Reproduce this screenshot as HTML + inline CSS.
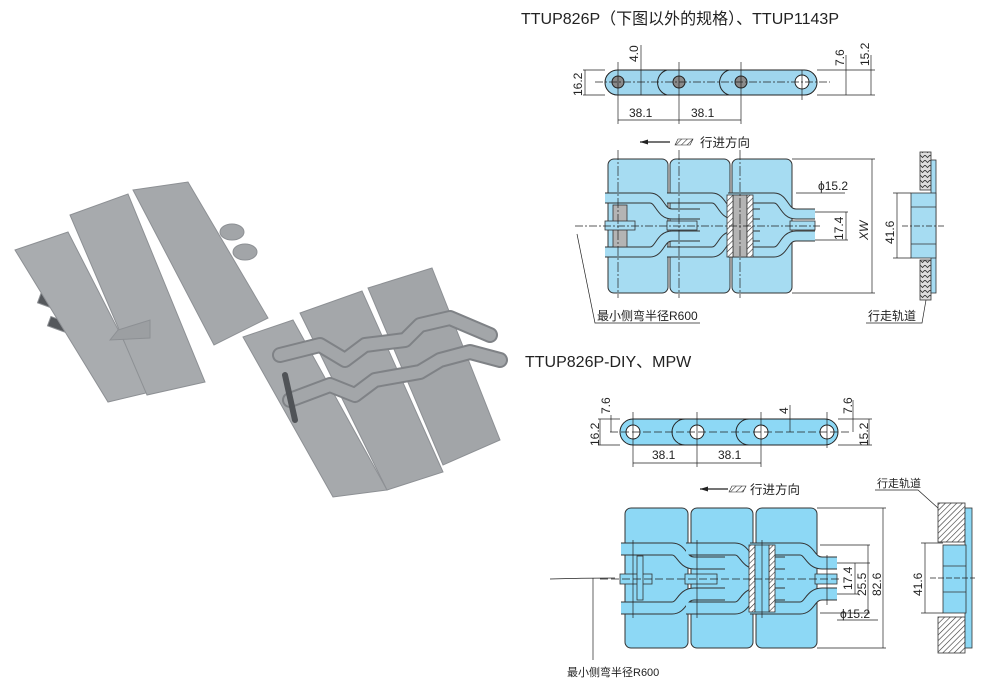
<!DOCTYPE html>
<html><head><meta charset="utf-8"><style>
html,body{margin:0;padding:0;background:#fff;}
svg{display:block;font-family:"Liberation Sans","Noto Sans CJK SC",sans-serif;}
</style></head><body>
<svg width="1000" height="691" viewBox="0 0 1000 691" xmlns="http://www.w3.org/2000/svg">
<defs>
<pattern id="h" width="4" height="4" patternUnits="userSpaceOnUse" patternTransform="rotate(45)"><rect width="4" height="4" fill="#fff"/><line x1="0" y1="0" x2="0" y2="4" stroke="#333" stroke-width="1.2"/></pattern>
<pattern id="hv" width="5" height="5" patternUnits="userSpaceOnUse"><rect width="5" height="5" fill="#ddd"/><path d="M0,0 L2.5,2.5 L5,0" stroke="#333" fill="none" stroke-width="0.8"/></pattern>
</defs>

<!-- ===== PHOTO left piece ===== -->
<g stroke="#8d9094" stroke-width="1">
<rect x="38" y="300" width="40" height="10" fill="#55585c" transform="rotate(20 58 305)"/>
<rect x="48" y="323" width="40" height="10" fill="#55585c" transform="rotate(20 68 328)"/>
<ellipse cx="232" cy="232" rx="12" ry="8" fill="#a2a5a8"/>
<ellipse cx="245" cy="252" rx="12" ry="8" fill="#a2a5a8"/>
<polygon points="15,250 68,232 150,392 108,402" fill="#a9acaf"/>
<polygon points="70,215 128,194 205,382 147,395" fill="#a7aaad"/>
<polygon points="133,190 188,182 268,318 214,345" fill="#a5a8ab"/>
<polygon points="110,340 118,330 150,320 150,338" fill="#9c9fa2"/>
</g>
<!-- ===== PHOTO right piece ===== -->
<g stroke="#8d9094" stroke-width="1">
<polygon points="243,337 293,320 387,490 333,497" fill="#a6a9ac"/>
<polygon points="300,313 362,291 443,472 387,490" fill="#a4a7aa"/>
<polygon points="368,288 432,268 500,440 443,465" fill="#a2a5a8"/>
</g>
<g fill="none" stroke-linecap="round" stroke-linejoin="round">
<path d="M280,355 L320,345 L345,360 L365,345 L405,340 L420,325 L450,318 L490,335" stroke="#7f8286" stroke-width="16"/>
<path d="M280,355 L320,345 L345,360 L365,345 L405,340 L420,325 L450,318 L490,335" stroke="#a3a6a9" stroke-width="12"/>
<path d="M290,400 L330,385 L355,395 L375,380 L420,372 L440,360 L470,352 L500,360" stroke="#7f8286" stroke-width="16"/>
<path d="M290,400 L330,385 L355,395 L375,380 L420,372 L440,360 L470,352 L500,360" stroke="#a3a6a9" stroke-width="12"/>
<path d="M285,375 L295,420" stroke="#505357" stroke-width="6"/>
</g>

<!-- ===== TITLES ===== -->
<text x="521" y="24" font-size="16" fill="#222">TTUP826P（下图以外的规格）、TTUP1143P</text>
<text x="525" y="367" font-size="16" fill="#222">TTUP826P-DIY、MPW</text>

<!-- ===== SIDE VIEW 1 ===== -->
<g stroke="#222" stroke-width="1">
<rect x="605" y="70" width="212" height="25" rx="12.5" fill="#9fd6ee"/>
<circle cx="618" cy="82" r="6" fill="#8a8a8a"/>
<circle cx="679" cy="82" r="6" fill="#8a8a8a"/>
<circle cx="741" cy="82" r="6" fill="#8a8a8a"/>
<circle cx="802" cy="82" r="7" fill="#fff"/>
<path d="M667,95 A13,13 0 0 1 667,70 M729,95 A13,13 0 0 1 729,70" fill="none"/>
</g>
<g stroke="#222" stroke-width="0.7" fill="none">
<line x1="595" y1="82" x2="830" y2="82" stroke-dasharray="8,2,2,2"/>
<line x1="583" y1="70" x2="605" y2="70"/><line x1="583" y1="95" x2="605" y2="95"/><line x1="585" y1="70" x2="585" y2="95"/>
<line x1="618" y1="62" x2="618" y2="124"/><line x1="679" y1="62" x2="679" y2="124"/><line x1="741" y1="62" x2="741" y2="124"/><line x1="802" y1="70" x2="802" y2="100"/>
<line x1="618" y1="120" x2="741" y2="120"/>
<line x1="641" y1="45" x2="641" y2="95"/>
<line x1="817" y1="70" x2="875" y2="70"/><line x1="817" y1="95" x2="875" y2="95"/>
<line x1="846" y1="55" x2="846" y2="95"/><line x1="871" y1="55" x2="871" y2="95"/>
</g>
<g font-size="12" fill="#222">
<text x="629" y="117">38.1</text><text x="691" y="117">38.1</text>
<text transform="translate(582,96) rotate(-90)">16.2</text>
<text transform="translate(638,62) rotate(-90)">4.0</text>
<text transform="translate(844,66) rotate(-90)">7.6</text>
<text transform="translate(869,66) rotate(-90)">15.2</text>
</g>
<path d="M640,142 L670,142" stroke="#222" stroke-width="1.2"/><path d="M640,142 l8,-2.5 v5z" fill="#222"/>
<polygon points="675,145 678,139 693,139 690,145" fill="url(#h)" stroke="#222" stroke-width="0.6"/>
<text x="700" y="147" font-size="12.5" fill="#222">行进方向</text>

<!-- ===== PLAN VIEW 1 ===== -->
<g stroke="#333" stroke-width="1" fill="#a6dcf2">
<rect x="608" y="159" width="60" height="134" rx="6"/>
<rect x="670" y="159" width="60" height="134" rx="6"/>
<rect x="732" y="159" width="60" height="134" rx="6"/>
</g>
<g fill="none" stroke-linejoin="round">
<g stroke="#333" stroke-width="11">
<path d="M605,198 H650 C660,198 660,214 672,214 H700"/><path d="M605,252 H650 C660,252 660,236 672,236 H700"/>
<path d="M667,198 H712 C722,198 722,214 734,214 H760"/><path d="M667,252 H712 C722,252 722,236 734,236 H760"/>
<path d="M728,198 H774 C784,198 784,214 796,214 H815"/><path d="M728,252 H774 C784,252 784,236 796,236 H815"/>
</g>
<g stroke="#a6dcf2" stroke-width="9">
<path d="M605,198 H650 C660,198 660,214 672,214 H700"/><path d="M605,252 H650 C660,252 660,236 672,236 H700"/>
<path d="M667,198 H712 C722,198 722,214 734,214 H760"/><path d="M667,252 H712 C722,252 722,236 734,236 H760"/>
<path d="M728,198 H774 C784,198 784,214 796,214 H815"/><path d="M728,252 H774 C784,252 784,236 796,236 H815"/>
</g>
</g>
<g stroke="#333" stroke-width="0.8">
<rect x="613" y="205" width="14" height="42" fill="#b4b4b4"/>
<rect x="733" y="195" width="14" height="62" fill="#b4b4b4"/>
<rect x="727" y="195" width="6" height="62" fill="url(#h)"/><rect x="747" y="195" width="6" height="62" fill="url(#h)"/>
<rect x="605" y="221" width="30" height="9" fill="#a6dcf2"/>
<rect x="667" y="221" width="30" height="9" fill="#a6dcf2"/>
<rect x="790" y="221" width="25" height="9" fill="#a6dcf2"/>
</g>
<g stroke="#222" stroke-width="0.7" fill="none">
<line x1="575" y1="226" x2="820" y2="226" stroke-dasharray="8,2,2,2"/>
<line x1="618" y1="150" x2="618" y2="298" stroke-dasharray="10,2,2,2"/>
<line x1="679" y1="150" x2="679" y2="298" stroke-dasharray="10,2,2,2"/>
<line x1="740" y1="150" x2="740" y2="298" stroke-dasharray="10,2,2,2"/>
<line x1="792" y1="159" x2="875" y2="159"/><line x1="792" y1="293" x2="875" y2="293"/>
<line x1="872" y1="159" x2="872" y2="293"/>
<line x1="796" y1="193" x2="845" y2="193"/><line x1="815" y1="212" x2="848" y2="212"/><line x1="815" y1="240" x2="848" y2="240"/>
<line x1="846" y1="212" x2="846" y2="240"/>
<polyline points="577,234 595,323 700,323"/>
</g>
<g font-size="12" fill="#222">
<text x="818" y="190">ϕ15.2</text>
<text transform="translate(843,240) rotate(-90)">17.4</text>
<text transform="translate(868,240) rotate(-90)" font-style="italic">XW</text>
<text transform="translate(894,244) rotate(-90)">41.6</text>
<text x="597" y="320">最小侧弯半径R600</text>
<text x="868" y="320">行走轨道</text>
</g>
<g stroke="#333" stroke-width="0.8">
<rect x="920" y="152" width="11" height="38" fill="url(#hv)"/>
<rect x="920" y="260" width="11" height="40" fill="url(#hv)"/>
<rect x="931" y="160" width="5" height="133" fill="#a6dcf2"/>
<rect x="911" y="193" width="25" height="65" fill="#a6dcf2"/>
<line x1="911" y1="207" x2="936" y2="207"/><line x1="911" y1="244" x2="936" y2="244"/>
</g>
<g stroke="#222" stroke-width="0.7" fill="none">
<line x1="893" y1="193" x2="911" y2="193"/><line x1="893" y1="258" x2="911" y2="258"/><line x1="897" y1="193" x2="897" y2="258"/>
<line x1="902" y1="226" x2="945" y2="226" stroke-dasharray="6,2,2,2"/>
<polyline points="866,323 922,323 926,300"/>
</g>

<!-- ===== SIDE VIEW 2 ===== -->
<g stroke="#222" stroke-width="1">
<rect x="620" y="419" width="218" height="26" rx="13" fill="#8dd8f5"/>
<circle cx="633" cy="432" r="7" fill="#fff"/><circle cx="697" cy="432" r="7" fill="#fff"/>
<circle cx="761" cy="432" r="7" fill="#fff"/><circle cx="827" cy="432" r="7" fill="#fff"/>
<path d="M685,445 A13,13 0 0 1 685,419 M749,445 A13,13 0 0 1 749,419" fill="none"/>
</g>
<g stroke="#222" stroke-width="0.7" fill="none">
<line x1="610" y1="432" x2="850" y2="432" stroke-dasharray="8,3"/>
<line x1="598" y1="419" x2="620" y2="419"/><line x1="598" y1="445" x2="620" y2="445"/><line x1="600" y1="419" x2="600" y2="445"/>
<line x1="611" y1="415" x2="611" y2="432"/>
<line x1="633" y1="412" x2="633" y2="467"/><line x1="697" y1="412" x2="697" y2="467"/><line x1="761" y1="412" x2="761" y2="467"/><line x1="827" y1="412" x2="827" y2="448"/>
<line x1="633" y1="463" x2="761" y2="463"/>
<line x1="790" y1="405" x2="790" y2="432"/>
<line x1="838" y1="419" x2="872" y2="419"/><line x1="838" y1="445" x2="872" y2="445"/>
<line x1="853" y1="400" x2="853" y2="432"/><line x1="869" y1="419" x2="869" y2="445"/>
</g>
<g font-size="12" fill="#222">
<text x="652" y="459">38.1</text><text x="718" y="459">38.1</text>
<text transform="translate(599,446) rotate(-90)">16.2</text>
<text transform="translate(610,414) rotate(-90)">7.6</text>
<text transform="translate(788,414) rotate(-90)">4</text>
<text transform="translate(852,414) rotate(-90)">7.6</text>
<text transform="translate(868,446) rotate(-90)">15.2</text>
</g>
<path d="M700,489 L728,489" stroke="#222" stroke-width="1.2"/><path d="M700,489 l8,-2.5 v5z" fill="#222"/>
<polygon points="729,492 732,486 746,486 743,492" fill="url(#h)" stroke="#222" stroke-width="0.6"/>
<text x="750" y="494" font-size="12.5" fill="#222">行进方向</text>

<!-- ===== PLAN VIEW 2 ===== -->
<g stroke="#333" stroke-width="1" fill="#8dd8f5">
<rect x="625" y="508" width="63" height="140" rx="6"/>
<rect x="691" y="508" width="62" height="140" rx="6"/>
<rect x="756" y="508" width="61" height="140" rx="6"/>
</g>
<g fill="none" stroke-linejoin="round">
<g stroke="#333" stroke-width="13">
<path d="M621,549 H672 C682,549 682,563 694,563 H725"/><path d="M621,608 H672 C682,608 682,594 694,594 H725"/>
<path d="M686,549 H735 C745,549 745,563 757,563 H785"/><path d="M686,608 H735 C745,608 745,594 757,594 H785"/>
<path d="M750,549 H800 C810,549 810,563 822,563 H837"/><path d="M750,608 H800 C810,608 810,594 822,594 H837"/>
</g>
<g stroke="#8dd8f5" stroke-width="11">
<path d="M621,549 H672 C682,549 682,563 694,563 H725"/><path d="M621,608 H672 C682,608 682,594 694,594 H725"/>
<path d="M686,549 H735 C745,549 745,563 757,563 H785"/><path d="M686,608 H735 C745,608 745,594 757,594 H785"/>
<path d="M750,549 H800 C810,549 810,563 822,563 H837"/><path d="M750,608 H800 C810,608 810,594 822,594 H837"/>
</g>
</g>
<g stroke="#333" stroke-width="0.8">
<rect x="749" y="545" width="6" height="67" fill="url(#h)"/><rect x="769" y="545" width="6" height="67" fill="url(#h)"/>
<rect x="755" y="545" width="14" height="67" fill="#8dd8f5"/>
<rect x="620" y="574" width="32" height="10" fill="#8dd8f5"/>
<rect x="685" y="574" width="32" height="10" fill="#8dd8f5"/>
<rect x="815" y="574" width="22" height="10" fill="#8dd8f5"/>
<rect x="637" y="556" width="6" height="44" fill="#8dd8f5"/>
</g>
<g stroke="#222" stroke-width="0.7" fill="none">
<line x1="600" y1="579" x2="840" y2="579" stroke-dasharray="8,3"/>
<path d="M550,579 Q580,578 615,578"/>
<line x1="593" y1="578" x2="593" y2="660"/>
<line x1="633" y1="540" x2="633" y2="618"/><line x1="697" y1="540" x2="697" y2="618"/><line x1="762" y1="540" x2="762" y2="618"/><line x1="827" y1="555" x2="827" y2="605"/>
<line x1="817" y1="508" x2="886" y2="508"/><line x1="817" y1="648" x2="886" y2="648"/>
<line x1="883" y1="508" x2="883" y2="648"/>
<line x1="837" y1="563" x2="870" y2="563"/><line x1="837" y1="594" x2="858" y2="594"/>
<line x1="820" y1="545" x2="870" y2="545"/><line x1="820" y1="613" x2="870" y2="613"/>
<line x1="855" y1="563" x2="855" y2="594"/><line x1="868" y1="545" x2="868" y2="613"/>
<line x1="837" y1="620" x2="878" y2="620"/>
</g>
<g font-size="12" fill="#222">
<text transform="translate(852,590) rotate(-90)">17.4</text>
<text transform="translate(866,596) rotate(-90)">25.5</text>
<text transform="translate(881,596) rotate(-90)">82.6</text>
<text x="840" y="618">ϕ15.2</text>
<text transform="translate(922,596) rotate(-90)">41.6</text>
<text x="877" y="487" font-size="11">行走轨道</text>
<text x="567" y="676" font-size="11">最小侧弯半径R600</text>
</g>
<g stroke="#333" stroke-width="0.8">
<rect x="938" y="503" width="27" height="39" fill="url(#h)"/>
<rect x="938" y="617" width="27" height="36" fill="url(#h)"/>
<rect x="965" y="508" width="7" height="140" fill="#8dd8f5"/>
<rect x="943" y="545" width="23" height="68" fill="#8dd8f5"/>
<line x1="943" y1="566" x2="966" y2="566"/><line x1="943" y1="592" x2="966" y2="592"/>
</g>
<g stroke="#222" stroke-width="0.7" fill="none">
<line x1="921" y1="543" x2="943" y2="543"/><line x1="921" y1="613" x2="943" y2="613"/><line x1="925" y1="543" x2="925" y2="613"/>
<line x1="930" y1="578" x2="975" y2="578" stroke-dasharray="6,2"/>
<polyline points="875,490 918,490 938,508"/>
</g>
</svg>
</body></html>
